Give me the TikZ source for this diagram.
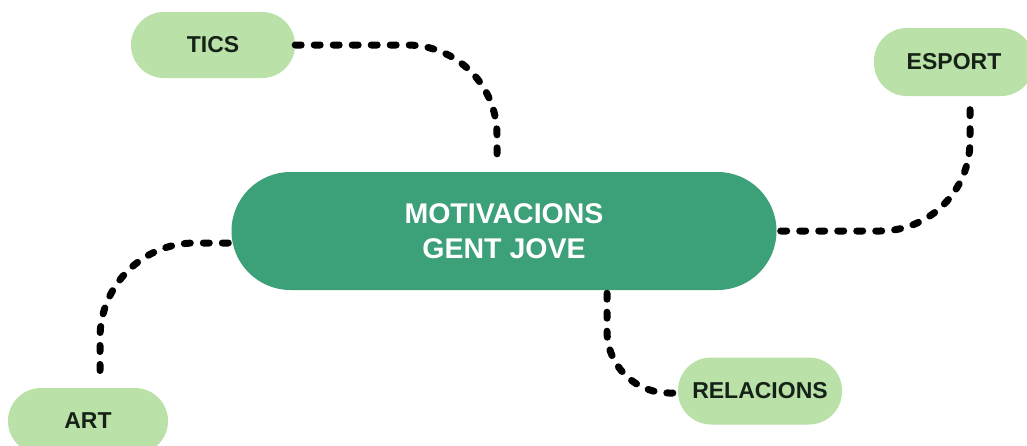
\documentclass[tikz,border=0pt]{standalone}
\usepackage{fontspec}
\setmainfont{Liberation Sans}
\usepackage{tikz}
\usetikzlibrary{positioning}

\definecolor{hubgreen}{RGB}{60,160,121}
\definecolor{leafgreen}{RGB}{185,225,168}
\definecolor{leaftext}{RGB}{22,34,24}

\begin{document}
\begin{tikzpicture}[x=1pt, y=-1pt,
  hub/.style={fill=hubgreen, rounded corners=59pt, minimum width=545pt, minimum height=118pt, align=center, text=white, font=\fontsize{28.5}{35}\selectfont\bfseries},
  leaf/.style={fill=leafgreen, rounded corners=33pt, minimum width=164pt, minimum height=66pt, text=leaftext, font=\fontsize{23}{26}\selectfont\bfseries},
  link/.style={draw=black, line width=7pt, line cap=round, dash pattern=on 6pt off 13pt}]
\useasboundingbox (0,0) rectangle (1027,445);
\node[hub] (hub) at (504,231) {MOTIVACIONS\\GENT JOVE};
\node[leaf] (tics) at (213,45) {TICS};
\node[leaf, minimum width=160pt, minimum height=68pt] (esport) at (954,62) {ESPORT};
\node[leaf, minimum width=160pt] (art) at (88,421) {ART};
\node[leaf, minimum width=164pt, minimum height=67pt] (rel) at (760,391) {RELACIONS};

\draw[link, rounded corners=90pt] (tics.east) -| ([xshift=-7pt, yshift=7pt]hub.north);
\draw[link, rounded corners=90pt] ([xshift=4pt]hub.east) -| ([xshift=16pt, yshift=-5pt]esport.south);
\draw[link, rounded corners=95pt] ([xshift=-3pt, yshift=-12pt]hub.west) -| ([xshift=12pt, yshift=8pt]art.north);
\draw[link, rounded corners=62pt] ([xshift=103pt, yshift=-3pt]hub.south) |- ([xshift=-4pt, yshift=-2pt]rel.west);
\end{tikzpicture}
\end{document}
